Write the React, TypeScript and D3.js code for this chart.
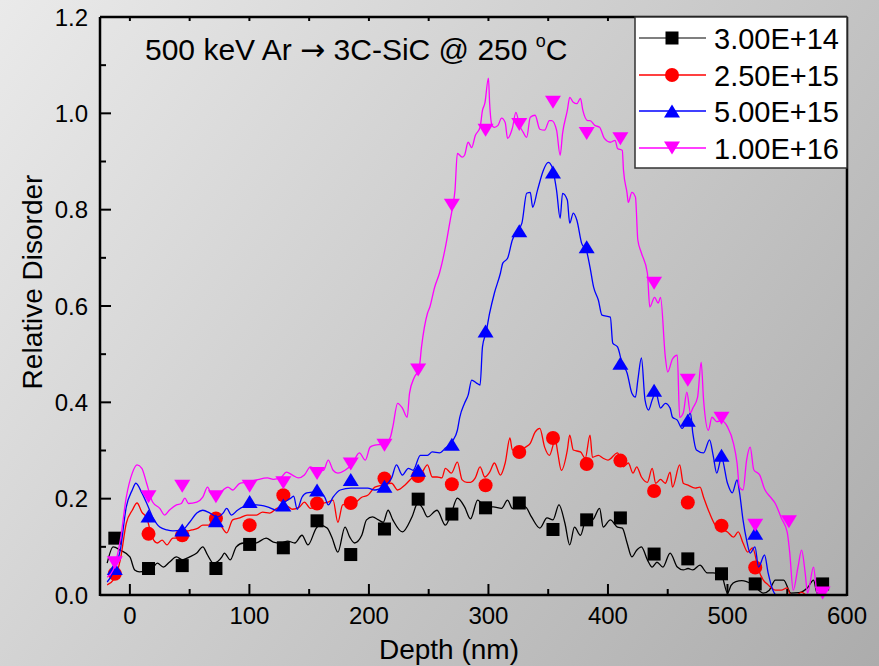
import React from 'react';
import * as d3 from 'd3';

// ---------- data ----------
const seriesNames = ['3.00E+14', '2.50E+15', '5.00E+15', '1.00E+16'];

const blackX = [-19,-14,-8,0,4,8,13,19,23,28,33,39,44,50,56,61,65,70,77,79,84,89,95,100,106,114,120,126,132,138,144,149,156,159,165,169,174,180,184,188,194,198,203,208,212,216,220,228,236,241,245,249,257,264,269,274,280,285,291,297,304,311,316,320,326,331,336,343,349,354,359,364,368,372,377,382,387,393,396,402,408,412,416,420,424,428,433,437,441,446,452,458,463,467,471,477,483,488,495,500,503,507,512,516,522,530,535,540,547,553,560,567,572,575,585];
const blackY = [0.066,0.100,0.093,0.079,0.052,0.048,0.050,0.056,0.066,0.058,0.068,0.079,0.073,0.079,0.087,0.100,0.083,0.066,0.079,0.087,0.073,0.100,0.108,0.106,0.108,0.118,0.110,0.108,0.112,0.108,0.124,0.104,0.139,0.145,0.139,0.120,0.089,0.141,0.120,0.108,0.124,0.156,0.162,0.156,0.151,0.176,0.156,0.131,0.162,0.191,0.180,0.162,0.176,0.145,0.170,0.201,0.183,0.158,0.197,0.183,0.183,0.180,0.197,0.180,0.185,0.183,0.162,0.139,0.160,0.156,0.187,0.149,0.104,0.141,0.124,0.160,0.156,0.180,0.141,0.156,0.141,0.139,0.108,0.079,0.093,0.100,0.073,0.058,0.068,0.058,0.087,0.058,0.052,0.055,0.052,0.062,0.046,0.046,0.041,0.004,0.020,0.028,0.030,0.028,0.020,0.004,0.010,0.031,0.031,0.004,0.005,0.015,0.031,0.004,0.0];

const redX = [-19,-14,-8,-3,2,6,10,14,19,23,27,31,36,41,46,52,57,61,66,71,77,81,86,92,98,106,111,117,123,131,136,142,146,151,157,161,166,170,174,178,183,188,194,199,205,211,219,224,230,236,244,249,253,257,261,264,269,274,278,282,285,289,293,297,301,305,310,314,318,320,326,331,335,339,343,347,351,356,358,361,366,368,371,377,381,385,387,392,396,400,408,413,417,421,424,428,433,437,440,444,448,452,454,460,463,467,473,477,480,485,491,500,505,509,513,517,521,526,530,534,540,545,550,553,558,562,566,590];
const redY = [0.021,0.031,0.073,0.149,0.176,0.191,0.172,0.160,0.118,0.108,0.114,0.104,0.118,0.118,0.131,0.135,0.139,0.145,0.145,0.166,0.141,0.129,0.156,0.160,0.166,0.166,0.172,0.170,0.180,0.185,0.178,0.183,0.193,0.180,0.185,0.190,0.193,0.197,0.151,0.187,0.189,0.191,0.203,0.207,0.224,0.228,0.232,0.218,0.228,0.243,0.253,0.270,0.245,0.245,0.243,0.263,0.253,0.276,0.239,0.234,0.234,0.243,0.266,0.245,0.255,0.274,0.249,0.274,0.326,0.301,0.301,0.307,0.315,0.338,0.346,0.307,0.290,0.322,0.295,0.259,0.301,0.332,0.301,0.297,0.284,0.332,0.286,0.290,0.284,0.280,0.295,0.266,0.274,0.253,0.266,0.245,0.234,0.263,0.232,0.240,0.232,0.255,0.224,0.270,0.232,0.228,0.222,0.224,0.203,0.170,0.141,0.131,0.120,0.131,0.108,0.089,0.098,0.052,0.031,0.021,0.010,0.010,0.015,0.0,0.0,0.006,0.0,0.0];

const blueX = [-19,-14,-8,-3,2,5,10,14,19,25,31,36,44,50,56,61,67,73,78,81,85,90,95,106,115,123,129,134,137,140,144,148,157,163,166,170,176,185,192,199,205,212,219,223,228,233,237,243,249,253,259,264,270,274,276,280,283,286,290,293,295,298,301,305,310,312,316,320,324,328,332,335,337,341,346,350,353,357,360,362,366,368,371,374,378,382,385,388,392,395,402,404,408,412,416,420,423,425,428,431,434,437,440,444,448,452,454,458,462,466,469,471,474,480,485,488,491,495,500,504,508,510,513,516,519,523,526,531,534,538,541,590];
const blueY = [0.027,0.046,0.093,0.183,0.218,0.232,0.212,0.191,0.162,0.141,0.135,0.133,0.135,0.151,0.170,0.176,0.170,0.162,0.170,0.180,0.166,0.176,0.183,0.187,0.183,0.176,0.192,0.200,0.205,0.178,0.203,0.212,0.214,0.203,0.187,0.203,0.218,0.222,0.222,0.222,0.218,0.225,0.243,0.270,0.249,0.263,0.259,0.290,0.290,0.297,0.295,0.305,0.320,0.342,0.369,0.398,0.415,0.446,0.440,0.436,0.515,0.545,0.585,0.627,0.668,0.689,0.699,0.737,0.755,0.772,0.834,0.836,0.805,0.840,0.882,0.898,0.890,0.840,0.782,0.834,0.820,0.772,0.793,0.778,0.730,0.715,0.680,0.639,0.612,0.581,0.577,0.523,0.515,0.480,0.461,0.419,0.411,0.446,0.492,0.405,0.384,0.405,0.420,0.388,0.398,0.388,0.369,0.363,0.346,0.363,0.378,0.336,0.301,0.295,0.322,0.290,0.253,0.285,0.232,0.212,0.239,0.214,0.156,0.114,0.087,0.100,0.058,0.083,0.046,0.010,0.0,0.0];

const magentaX = [-19,-14,-8,-3,2,6,10,14,19,25,29,33,39,43,46,49,56,61,65,68,72,78,82,86,92,98,106,115,120,126,131,136,141,146,151,157,162,166,170,174,180,186,192,197,201,205,210,214,218,220,224,228,232,234,238,242,244,249,251,255,259,264,268,270,272,274,278,280,283,286,289,293,295,297,300,301,303,305,308,311,314,316,320,323,326,329,332,335,339,343,347,351,353,357,360,362,366,368,371,374,377,379,383,385,389,393,397,402,406,408,412,413,416,417,420,423,425,428,433,435,439,442,444,448,450,454,458,460,463,466,469,471,475,478,480,484,487,491,495,500,505,508,510,513,516,519,522,527,531,536,540,545,550,552,555,559,562,565,567,572,575,580,590];
const magentaY = [0.037,0.052,0.114,0.203,0.253,0.270,0.263,0.232,0.193,0.180,0.166,0.176,0.187,0.190,0.201,0.190,0.193,0.203,0.224,0.210,0.205,0.218,0.224,0.218,0.232,0.234,0.239,0.243,0.240,0.243,0.255,0.249,0.243,0.249,0.266,0.258,0.259,0.280,0.259,0.253,0.259,0.272,0.295,0.280,0.307,0.311,0.313,0.315,0.328,0.349,0.398,0.388,0.369,0.419,0.452,0.470,0.515,0.585,0.598,0.639,0.668,0.722,0.778,0.805,0.840,0.917,0.909,0.913,0.940,0.929,0.954,0.971,1.006,1.021,1.073,1.021,0.975,0.971,0.975,0.990,0.981,0.948,0.969,1.002,0.975,0.961,0.950,0.992,0.996,0.967,0.965,0.985,0.985,0.965,0.913,0.958,1.006,1.033,1.023,1.020,1.031,1.006,0.985,0.985,0.975,0.971,0.948,0.940,0.944,0.927,0.923,0.882,0.834,0.815,0.836,0.826,0.737,0.710,0.668,0.598,0.618,0.606,0.618,0.494,0.463,0.490,0.498,0.369,0.378,0.421,0.378,0.388,0.411,0.483,0.405,0.342,0.369,0.360,0.362,0.349,0.315,0.274,0.224,0.218,0.280,0.307,0.260,0.249,0.220,0.203,0.190,0.160,0.130,0.090,0.010,0.058,0.093,0.046,0.004,0.058,0.004,0.0,0.0];

const markerX = [-12.6,15.6,43.8,72.0,100.2,128.4,156.6,184.8,213.0,241.2,269.4,297.6,325.8,354.0,382.2,410.4,438.6,466.8,495.0,523.2,551.4,579.6];
const blackM = [0.118,0.055,0.061,0.055,0.105,0.098,0.154,0.084,0.137,0.199,0.168,0.181,0.191,0.136,0.156,0.160,0.085,0.075,0.044,0.023,null,0.023];
const redM = [0.044,0.127,0.124,0.159,0.145,0.207,0.190,0.191,0.242,0.247,0.230,0.228,0.297,0.326,0.272,0.279,0.216,0.192,0.144,0.057,null,null];
const blueM = [0.055,0.164,0.135,0.154,0.194,0.187,0.218,0.240,0.226,0.259,0.313,0.548,0.756,0.878,0.723,0.481,0.425,0.363,0.290,0.128,null,null];
const magentaM = [0.067,0.204,0.226,0.204,0.226,0.233,0.252,0.272,0.311,0.467,0.809,0.965,0.977,1.023,0.958,0.947,0.647,0.446,0.367,0.145,0.152,0.004];

const xMajor = [0, 100, 200, 300, 400, 500, 600];
const xMinor = [50, 150, 250, 350, 450, 550];
const yMajor = [0, 0.2, 0.4, 0.6, 0.8, 1.0, 1.2];
const yMinor = [0.1, 0.3, 0.5, 0.7, 0.9, 1.1];

// ---------- layout ----------
const W = 879, H = 666;
const L = 100, R = 847, T = 17, B = 595;
const FONT = 'Liberation Sans, Arial, Helvetica, sans-serif';

const x = d3.scaleLinear().domain([-25, 600]).range([L, R]);
const y = d3.scaleLinear().domain([0, 1.2]).range([B, T]);

const colors = ['#000000', '#ff0000', '#0000ff', '#ff00ff'];
const legendLineColors = ['#555555', '#ff0000', '#0000ff', '#ff00ff'];
const shapes = ['square', 'circle', 'up', 'down'];

const lineGen = d3.line<[number, number]>()
  .x(d => x(d[0]))
  .y(d => y(d[1]))
  .curve(d3.curveMonotoneX);

function Marker({ shape, cx, cy, color }: { shape: string; cx: number; cy: number; color: string }) {
  if (shape === 'square') return <rect x={cx - 6.5} y={cy - 6.5} width={13} height={13} fill={color} />;
  if (shape === 'circle') return <circle cx={cx} cy={cy} r={7} fill={color} />;
  if (shape === 'up') return <path d={`M${cx - 8},${cy + 6.5}L${cx + 8},${cy + 6.5}L${cx},${cy - 6.5}Z`} fill={color} />;
  return <path d={`M${cx - 8},${cy - 6.5}L${cx + 8},${cy - 6.5}L${cx},${cy + 6.5}Z`} fill={color} />;
}

export default function App() {
  const lines: [number[], number[]][] = [[blackX, blackY], [redX, redY], [blueX, blueY], [magentaX, magentaY]];
  const marks = [blackM, redM, blueM, magentaM];
  const legendRows = [38, 75, 111, 148];
  return (
    <svg width={W} height={H} style={{ position: 'fixed', left: 0, top: 0 }} fontFamily={FONT}>
      <defs>
        <linearGradient id="bg" gradientUnits="userSpaceOnUse" x1={0} y1={0} x2={W} y2={H}>
          <stop offset="0%" stopColor="#eaeaea" />
          <stop offset="100%" stopColor="#acacac" />
        </linearGradient>
      </defs>
      <rect x={0} y={0} width={W} height={H} fill="url(#bg)" />

      {/* series */}
      {lines.map(([xs, ys], i) => {
        const pts = xs.map((v, k) => [v, ys[k]] as [number, number]);
        return (
          <g key={i}>
            <path d={lineGen(pts) || ''} fill="none" stroke={colors[i]} strokeWidth={1.3} />
            {markerX.map((mx, k) => marks[i][k] == null ? null : (
              <Marker key={k} shape={shapes[i]} cx={x(mx)} cy={y(marks[i][k] as number)} color={colors[i]} />
            ))}
          </g>
        );
      })}

      {/* frame */}
      <g stroke="#000" strokeWidth={2.5} fill="none">
        <line x1={L} y1={B} x2={R} y2={B} />
        <line x1={L} y1={T} x2={L} y2={B + 1} />
        <line x1={L} y1={T} x2={R} y2={T} />
        <line x1={R} y1={T} x2={R} y2={B + 1} />
      </g>
      {/* ticks */}
      <g stroke="#000" strokeWidth={2}>
        {xMajor.map(v => <line key={'xM' + v} x1={x(v)} x2={x(v)} y1={B} y2={B - 11} />)}
        {xMinor.map(v => <line key={'xm' + v} x1={x(v)} x2={x(v)} y1={B} y2={B - 6} />)}
        {[...xMajor, ...xMinor].filter(v => v < 600).map(v => <line key={'xt' + v} x1={x(v)} x2={x(v)} y1={T} y2={T + 4} />)}
        {yMajor.map(v => <line key={'yM' + v} x1={L} x2={L + 11} y1={y(v)} y2={y(v)} />)}
        {yMinor.map(v => <line key={'ym' + v} x1={L} x2={L + 6} y1={y(v)} y2={y(v)} />)}
      </g>
      {/* tick labels */}
      <g fontSize={24} fill="#000">
        {xMajor.map(v => <text key={'xl' + v} x={x(v)} y={624} textAnchor="middle">{v}</text>)}
        {yMajor.map(v => <text key={'yl' + v} x={88} y={y(v) + 8.5} textAnchor="end">{v.toFixed(1)}</text>)}
      </g>
      {/* axis titles */}
      <text x={449} y={659} fontSize={28} textAnchor="middle">Depth (nm)</text>
      <text transform="translate(42,282) rotate(-90)" fontSize={28} textAnchor="middle">Relative Disorder</text>

      {/* annotation */}
      <text x={145} y={60} fontSize={30}>
        500 keV Ar <tspan fontFamily="DejaVu Sans" fontSize={30}>→</tspan> 3C-SiC @ 250 <tspan fontSize={18} dy={-13}>o</tspan><tspan dy={13}>C</tspan>
      </text>

      {/* legend */}
      <rect x={635} y={T} width={R - 635} height={151} fill="#fff" stroke="#333" strokeWidth={1.5} />
      {seriesNames.map((n, i) => (
        <g key={n}>
          <line x1={639} x2={706} y1={legendRows[i]} y2={legendRows[i]} stroke={legendLineColors[i]} strokeWidth={1.3} />
          <Marker shape={shapes[i]} cx={672} cy={legendRows[i]} color={colors[i]} />
          <text x={714} y={legendRows[i] + 10.5} fontSize={29}>{n}</text>
        </g>
      ))}
    </svg>
  );
}
